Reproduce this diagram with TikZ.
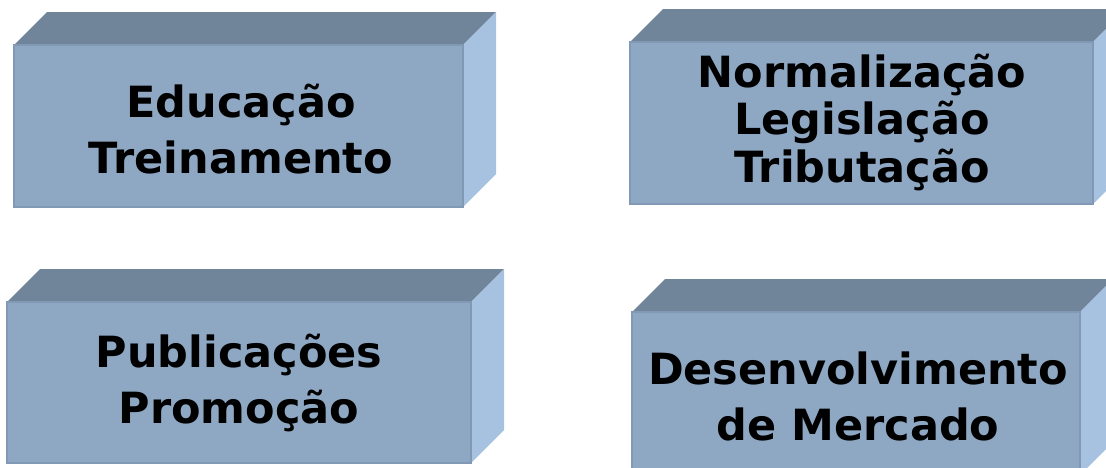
\documentclass[tikz,border=0pt]{standalone}
\usepackage{fontspec}
\setmainfont{DejaVu Sans}
\definecolor{frontc}{HTML}{8EA8C4}
\definecolor{topc}{HTML}{708599}
\definecolor{sidec}{HTML}{A6C2E0}
\definecolor{edgec}{HTML}{8199B5}
\newcommand{\mycube}[5]{%
  \fill[topc] (#1,#2) -- ({#1+#5},{#2-#5}) -- ({#3+#5},{#2-#5}) -- (#3,#2) -- cycle;
  \fill[sidec] (#3,#2) -- ({#3+#5},{#2-#5}) -- ({#3+#5},{#4-#5}) -- (#3,#4) -- cycle;
  \filldraw[frontc, draw=edgec, line width=1.2pt] (#1,#2) rectangle (#3,#4);
}
\tikzset{
  lbl/.style={align=center, text=black, inner sep=0pt, anchor=base,
    font=\bfseries\fontsize{43}{56}\selectfont},
  lbltight/.style={lbl, font=\bfseries\fontsize{43}{47.5}\selectfont}
}
\begin{document}
\begin{tikzpicture}[x=1pt,y=-1pt]
\useasboundingbox (0,0) rectangle (1106,467);
\clip (0,0) rectangle (1106,467);
\mycube{14}{45}{463}{207}{33}
\mycube{630}{42}{1093}{204}{33}
\mycube{7}{302}{471}{463}{33}
\mycube{632}{312}{1080}{475}{33}
\node[lbl] (t1) at (241,173) {Educação\\Treinamento};
\node[lbltight] (t2) at (862,182) {Normalização\\Legislação\\Tributação};
\node[lbl] (t3) at (239,423) {Publicações\\Promoção};
\node[lbl] (t4) at (858,440) {Desenvolvimento\\de Mercado};
\end{tikzpicture}
\end{document}
